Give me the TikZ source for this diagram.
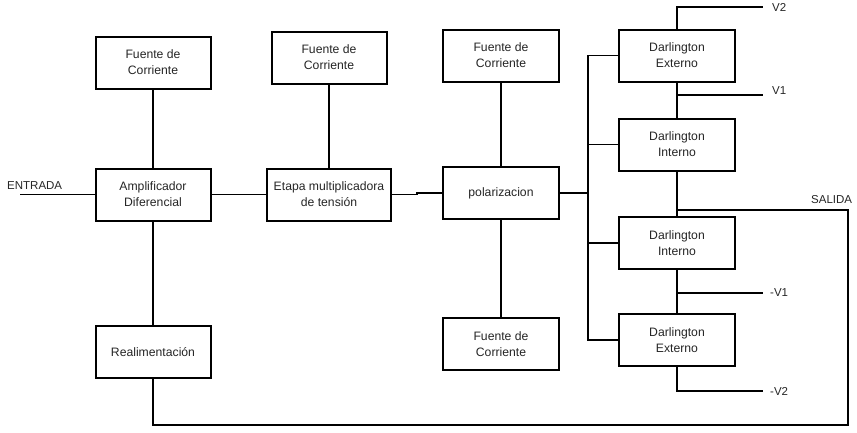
\documentclass[tikz,border=0pt]{standalone}
\usepackage{fontspec}
\setmainfont{Liberation Sans}
\begin{document}
\begin{tikzpicture}[x=1pt,y=-1pt,
  blk/.style={draw,line width=2pt,rectangle,minimum width=115pt,minimum height=52pt,
    align=center,inner sep=1pt,font=\fontsize{12.2}{16}\selectfont,text=black!85},
  wire/.style={line width=1.9pt},
  lbl/.style={font=\fontsize{11.5}{14}\selectfont,text=black!85,inner sep=0pt}]
\useasboundingbox[fill=white] (0,0) rectangle (857,432);
% blocks
\node[blk] (fc1) at (153,62.5) {Fuente de\\Corriente};
\node[blk] (fc2) at (329,57.5) {Fuente de\\Corriente};
\node[blk] (ad) at (153,194.5) {Amplificador\\Diferencial};
\node[blk,minimum width=124pt] (et) at (329,194.5) {Etapa multiplicadora\\de tensión};
\node[blk] (re) at (153,352) {Realimentación};
\node[blk,minimum width=116pt] (fc3) at (501,55.5) {Fuente de\\Corriente};
\node[blk,minimum width=116pt] (po) at (501,193) {polarizacion};
\node[blk,minimum width=116pt] (fc4) at (501,344) {Fuente de\\Corriente};
\node[blk,minimum width=116pt] (de1) at (677,55.5) {Darlington\\Externo};
\node[blk,minimum width=116pt] (di1) at (677,144.5) {Darlington\\Interno};
\node[blk,minimum width=116pt] (di2) at (677,243) {Darlington\\Interno};
\node[blk,minimum width=116pt] (de2) at (677,340) {Darlington\\Externo};
% free ends
\coordinate (in) at (20,194.5);
\coordinate (bus) at (588,193);
\coordinate (v2) at (763,7);
\coordinate (v1) at (763,95);
\coordinate (mv1) at (763,293);
\coordinate (mv2) at (763,391);
\coordinate (sj) at (677,210);
\coordinate (corner) at (848,425);
% labels
\node[lbl,anchor=west] (tin) at (7,186) {ENTRADA};
\node[lbl,anchor=west] (tv2) at (772,7) {V2};
\node[lbl,anchor=west] (tv1) at (772,91) {V1};
\node[lbl,anchor=west] (tsal) at (811,200) {SALIDA};
\node[lbl,anchor=west] (tmv1) at (770,293) {-V1};
\node[lbl,anchor=west] (tmv2) at (770,391) {-V2};
% connectors
\draw[wire] (in) -- (ad.west);
\draw[wire] (fc1.south) -- (ad.north);
\draw[wire] (ad.south) -- (re.north);
\draw[wire] (ad.east) -- (et.west);
\draw[wire] (fc2.south) -- (et.north);
\draw[wire] (et.east) -- ++(25,0) |- (po.west);
\draw[wire] (fc3.south) -- (po.north);
\draw[wire] (po.south) -- (fc4.north);
\draw[wire] (po.east) -- (bus);
\draw[wire] (de1.west) -| (bus) |- (de2.west);
\draw[wire] (di1.west) -- (di1.west -| bus);
\draw[wire] (di2.west) -- (di2.west -| bus);
\draw[wire] (de1.north) |- (v2);
\draw[wire] (de1.south) -- (di1.north);
\draw[wire] (de1.south |- v1) -- (v1);
\draw[wire] (di1.south) -- (di2.north);
\draw[wire] (sj) -| (corner) -| (re.south);
\draw[wire] (di2.south) -- (de2.north);
\draw[wire] (di2.south |- mv1) -- (mv1);
\draw[wire] (de2.south) |- (mv2);
\end{tikzpicture}
\end{document}
